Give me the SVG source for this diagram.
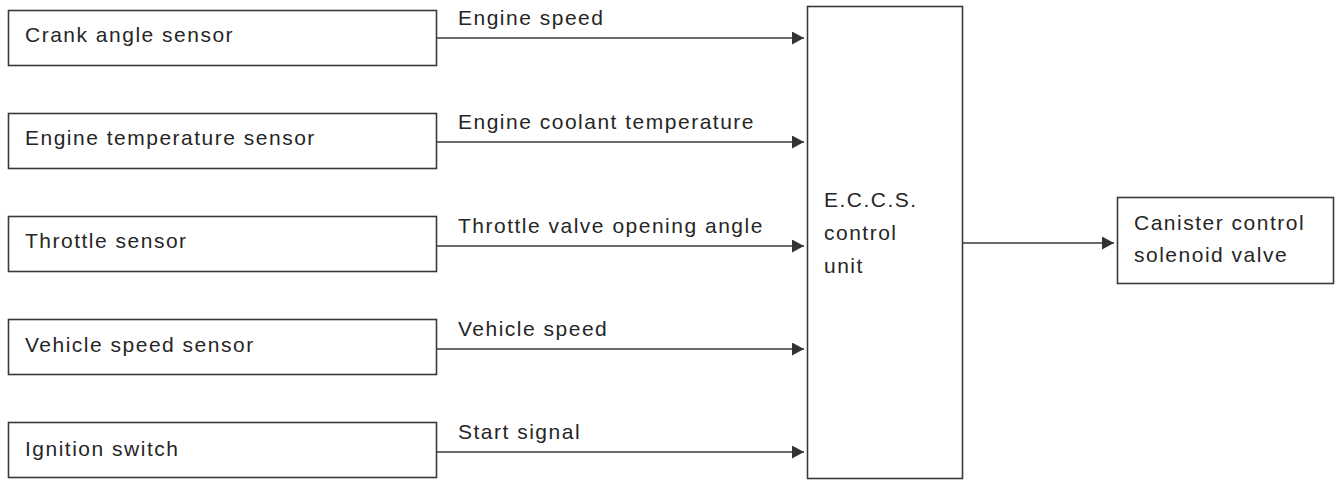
<svg xmlns="http://www.w3.org/2000/svg" width="1337" height="481" viewBox="0 0 1337 481">
<style>
.box{fill:#fff;stroke:#3a3a3a;stroke-width:1.6}
.t{font-family:"Liberation Sans",Arial,Helvetica,sans-serif;font-size:21px;letter-spacing:1.5px;fill:#262626}
.ln{stroke:#3a3a3a;stroke-width:1.6;fill:none}
</style>
<defs>
<marker id="ah" markerUnits="userSpaceOnUse" markerWidth="14" markerHeight="14" refX="12" refY="6.5" orient="auto">
<path d="M0,0 L12,6.5 L0,13 Z" fill="#333"/>
</marker>
</defs>
<rect width="1337" height="481" fill="#fff"/>
<g id="crank">
<rect class="box" x="8.5" y="10.5" width="428" height="55"/>
<text class="t" x="25" y="42">Crank angle sensor</text>
</g>
<g id="engtemp">
<rect class="box" x="8.5" y="113.5" width="428" height="55"/>
<text class="t" x="25" y="145">Engine temperature sensor</text>
</g>
<g id="throttle">
<rect class="box" x="8.5" y="216.5" width="428" height="55"/>
<text class="t" x="25" y="248">Throttle sensor</text>
</g>
<g id="vehspeed">
<rect class="box" x="8.5" y="319.5" width="428" height="55"/>
<text class="t" x="25" y="352">Vehicle speed sensor</text>
</g>
<g id="ignition">
<rect class="box" x="8.5" y="422.5" width="428" height="55"/>
<text class="t" x="25" y="456">Ignition switch</text>
</g>
<g id="ecu">
<rect class="box" x="807.5" y="6.5" width="155" height="472"/>
<text class="t" x="824" y="207">E.C.C.S.</text>
<text class="t" x="824" y="240">control</text>
<text class="t" x="824" y="273">unit</text>
</g>
<g id="canister">
<rect class="box" x="1117.5" y="197.5" width="216" height="86"/>
<text class="t" x="1134" y="230">Canister control</text>
<text class="t" x="1134" y="262">solenoid valve</text>
</g>
<g id="connectors">
<line class="ln" x1="437" y1="38" x2="804" y2="38" marker-end="url(#ah)"/>
<line class="ln" x1="437" y1="142" x2="804" y2="142" marker-end="url(#ah)"/>
<line class="ln" x1="437" y1="246" x2="804" y2="246" marker-end="url(#ah)"/>
<line class="ln" x1="437" y1="349" x2="804" y2="349" marker-end="url(#ah)"/>
<line class="ln" x1="437" y1="452" x2="804" y2="452" marker-end="url(#ah)"/>
<line class="ln" x1="963" y1="243" x2="1114" y2="243" marker-end="url(#ah)"/>
<text class="t" x="458" y="25">Engine speed</text>
<text class="t" x="458" y="129">Engine coolant temperature</text>
<text class="t" x="458" y="233">Throttle valve opening angle</text>
<text class="t" x="458" y="336">Vehicle speed</text>
<text class="t" x="458" y="439">Start signal</text>
</g>
</svg>
